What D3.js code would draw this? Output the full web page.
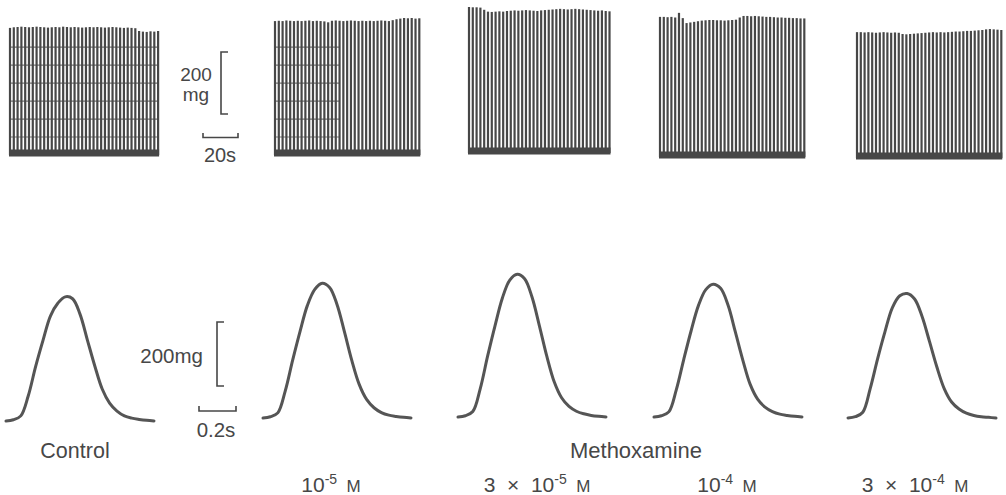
<!DOCTYPE html>
<html lang="en">
<head>
  <meta charset="UTF-8">
  <title>Methoxamine: contraction records</title>
  <script src="https://d3js.org/d3.v7.min.js"></script>
  <style>
    body { margin: 0; background: #fff; }
    svg { display: block; font-family: "Liberation Sans", Arial, sans-serif; }
    .lbl { fill: #474747; }
  </style>
</head>
<body>
  <div id="chart"></div>

  <script>
    // ---- data: slow chart records, peak tension of each twitch (mg)
    const ctlSlow = [410,412,413,414,413,412,413,414,413,412,411,412,413,412,414,413,412,413,412,411,
                     412,413,412,413,412,411,412,413,412,411,410,411,410,409,400,398,397,399,398,400];
    const m5Slow  = [432,433,432,434,433,432,433,432,433,434,432,433,432,431,428,433,434,433,432,433,
                     434,433,432,433,432,433,432,433,434,433,432,435,438,440,442,441,442,440,441];
    const m35Slow = [471,470,470,469,462,456,455,456,457,456,458,459,460,459,460,461,460,459,458,460,
                     461,462,463,464,465,464,463,464,465,464,463,462,461,460,459,460,458,457];
    const m4Slow  = [452,452,451,452,450,465,448,432,434,436,438,440,441,442,442,441,441,440,441,442,
                     443,450,455,455,454,455,454,453,452,452,451,450,450,449,449,448,448,447,447];
    const m34Slow = [406,406,405,406,405,404,405,406,405,404,405,404,400,399,400,401,402,403,404,405,
                     406,405,406,405,406,407,408,408,409,410,410,411,412,413,415,416,415,414,413];
    const twitchInterval = 2.17;              // s between twitches on the slow record
    const paperGrid = [58, 116, 174, 232, 290, 348]; // chart-paper rulings (mg)

    // ---- data: single twitches on a fast time base (s, mg)
    const twitchTime = [0,0.04,0.08,0.12,0.16,0.20,0.24,0.28,0.32,0.36,0.40,
                        0.44,0.48,0.52,0.56,0.60,0.64,0.68,0.72,0.76,0.80];
    const ctlTwitch = [0,4,16,78,170,252,328,368,388,382,334,253,172,100,56,31,16,9,5,2,0];
    const m5Twitch  = [0,4,16,84,180,270,352,402,421,408,355,270,180,105,58,32,17,9,5,2,0];
    const m35Twitch = [0,4,17,88,190,285,372,428,446,432,375,285,190,110,60,33,18,10,5,2,0];
    const m4Twitch  = [0,4,16,84,178,268,348,398,415,402,350,265,178,102,56,31,17,9,5,2,0];
    const m34Twitch = [0,4,18,92,185,270,345,382,389,372,318,240,160,92,50,28,15,8,4,2,0];

    // ---- labels
    const groupLabel = "Methoxamine";
    const concCoef = ["", "3\u00a0\u00a0×\u00a0\u00a0", "", "3\u00a0\u00a0×\u00a0\u00a0"];
    const concExp  = ["-5", "-5", "-4", "-4"];
    const scaleTension = 200;   // mg
    const scaleSlowTime = 20;   // s
    const scaleFastTime = 0.2;  // s

    const slowSets = [ctlSlow, m5Slow, m35Slow, m4Slow, m34Slow];
    const twitchSets = [ctlTwitch, m5Twitch, m35Twitch, m4Twitch, m34Twitch];

    // ---- layout
    const W = 1006, H = 495;
    const ink = "#474747";
    const slowLeft = [10, 275, 469, 660, 857];
    const slowBase = [155, 155, 153, 157, 158];
    const twLeft = [6, 263, 458, 654, 848];
    const twBase = [421, 418, 417, 417, 418];
    const concX = [331, 537, 727, 915];

    const svg = d3.select("#chart").append("svg")
      .attr("width", W).attr("height", H)
      .attr("viewBox", `0 0 ${W} ${H}`);

    const xSlow = d3.scaleLinear().domain([0, scaleSlowTime]).range([0, 35]);
    const ySlow = d3.scaleLinear().domain([0, scaleTension]).range([0, 62]);
    const xFast = d3.scaleLinear().domain([0, scaleFastTime]).range([0, 37]);
    const yFast = d3.scaleLinear().domain([0, scaleTension]).range([0, 64]);

    function label(x, y, size, anchor, txt) {
      return svg.append("text").attr("class", "lbl")
        .attr("x", x).attr("y", y).attr("text-anchor", anchor)
        .style("font-size", size + "px").text(txt);
    }

    // slow records
    slowSets.forEach((tops, i) => {
      const g = svg.append("g").attr("transform", `translate(${slowLeft[i]},${slowBase[i]})`);
      const span = xSlow((tops.length - 1) * twitchInterval);

      if (i < 2) {
        g.selectAll(".grid").data(paperGrid).enter().append("line")
          .attr("x1", 0).attr("x2", i === 0 ? span : span * 0.45)
          .attr("y1", d => -ySlow(d)).attr("y2", d => -ySlow(d))
          .attr("stroke", ink).attr("stroke-width", 1.2).attr("opacity", 0.75);
      }

      g.selectAll(".tw").data(tops).enter().append("line")
        .attr("x1", (d, k) => xSlow(k * twitchInterval))
        .attr("x2", (d, k) => xSlow(k * twitchInterval))
        .attr("y1", 0).attr("y2", d => -ySlow(d))
        .attr("stroke", ink).attr("stroke-width", 2.2);

      g.append("line")
        .attr("x1", -1).attr("x2", span + 1)
        .attr("y1", -2).attr("y2", -2)
        .attr("stroke", ink).attr("stroke-width", 7);
    });

    // slow scale bars
    const bracket = (x, y0, len) => `M${x + 7},${y0}H${x}V${y0 + len}H${x + 7}`;
    svg.append("path").attr("d", bracket(221, 52, ySlow(scaleTension)))
      .attr("fill", "none").attr("stroke", ink).attr("stroke-width", 1.6);
    svg.append("path").attr("d", `M203,133V137.5H${203 + xSlow(scaleSlowTime)}V133`)
      .attr("fill", "none").attr("stroke", ink).attr("stroke-width", 1.6);
    label(196, 81, 19, "middle", scaleTension);
    label(196, 101, 19, "middle", "mg");
    label(220, 162, 20, "middle", scaleSlowTime + "s");

    // single twitches
    twitchSets.forEach((vals, i) => {
      const line = d3.line()
        .x((d, k) => twLeft[i] + xFast(twitchTime[k]))
        .y(d => twBase[i] - yFast(d))
        .curve(d3.curveCatmullRom.alpha(0.5));
      svg.append("path").datum(vals).attr("d", line)
        .attr("fill", "none").attr("stroke", "#555").attr("stroke-width", 3)
        .attr("stroke-linejoin", "round").attr("stroke-linecap", "round");
    });

    // fast scale bars
    svg.append("path").attr("d", bracket(217, 322, yFast(scaleTension)))
      .attr("fill", "none").attr("stroke", ink).attr("stroke-width", 1.6);
    svg.append("path").attr("d", `M199,406V411H${199 + xFast(scaleFastTime)}V406`)
      .attr("fill", "none").attr("stroke", ink).attr("stroke-width", 1.6);
    label(203, 363, 20.5, "end", scaleTension + "mg");
    label(216, 437, 20.5, "middle", scaleFastTime + "s");

    // labels
    label(75, 458, 21.5, "middle", "Control");
    label(636, 458, 22, "middle", groupLabel);

    concExp.forEach((e, i) => {
      const t = label(concX[i], 492, 21, "middle", null);
      t.append("tspan").text(concCoef[i] + "10");
      t.append("tspan").style("font-size", "14px").attr("dy", -8).text(e);
      t.append("tspan").style("font-size", "17px").attr("dy", 8).text("\u00a0\u00a0M");
    });
  </script>
</body>
</html>
